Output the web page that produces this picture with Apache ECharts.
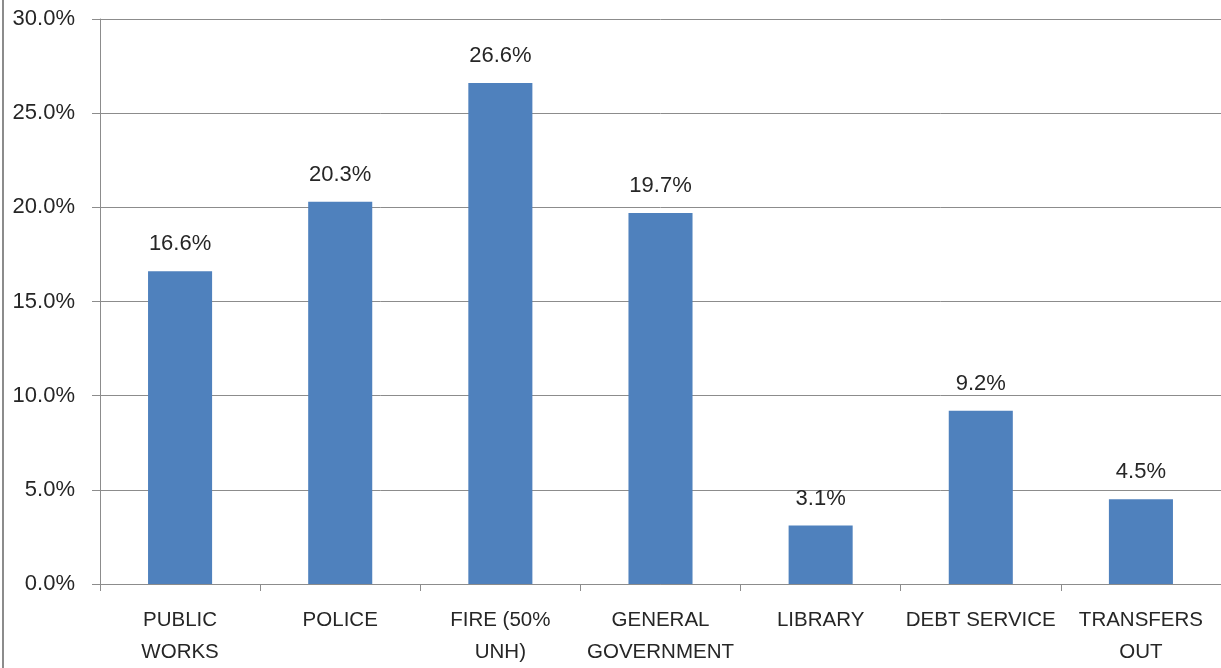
<!DOCTYPE html>
<html><head><meta charset="utf-8">
<script src="https://cdn.jsdelivr.net/npm/echarts@6/dist/echarts.min.js"></script>
<style>html,body{margin:0;padding:0;background:#fff;overflow:hidden}#c{width:1221px;height:668px}</style>
</head><body><div id="c"></div>
<script>
const categories = ["PUBLIC\nWORKS", "POLICE", "FIRE (50%\nUNH)", "GENERAL\nGOVERNMENT", "LIBRARY", "DEBT SERVICE", "TRANSFERS\nOUT"];
const values = [16.6, 20.3, 26.6, 19.7, 3.1, 9.2, 4.5];
const yTicks = [0, 5, 10, 15, 20, 25, 30];

const font = "'Liberation Sans', 'DejaVu Sans', sans-serif";
const chart = echarts.init(document.getElementById('c'));
chart.setOption({
  animation: false,
  grid: {left: 100, right: -5, top: 19, bottom: 75, containLabel: false},
  graphic: [{type: 'line', shape: {x1: 3, y1: 0, x2: 3, y2: 668}, style: {stroke: '#8c8c8c', lineWidth: 2}}],
  xAxis: {
    type: 'category', data: categories,
    axisLine: {lineStyle: {color: '#8c8c8c', width: 1}},
    axisTick: {show: true, length: 7, lineStyle: {color: '#8c8c8c'}},
    axisLabel: {fontFamily: font, fontSize: 20.5, color: '#262626', margin: 20, lineHeight: 32, interval: 0}
  },
  yAxis: {
    type: 'value', min: yTicks[0], max: yTicks[yTicks.length - 1], interval: 5,
    axisLine: {show: true, lineStyle: {color: '#8c8c8c'}},
    axisTick: {show: true, length: 8, lineStyle: {color: '#8c8c8c'}},
    splitLine: {lineStyle: {color: '#8c8c8c', width: 1}},
    axisLabel: {fontFamily: font, fontSize: 22, color: '#262626', margin: 25,
      formatter: v => v.toFixed(1) + '%'}
  },
  series: [{
    type: 'bar', data: values, barCategoryGap: '60%',
    itemStyle: {color: '#4F81BD'},
    label: {show: true, position: 'top', distance: 16, fontFamily: font, fontSize: 22, color: '#262626',
      formatter: p => p.value.toFixed(1) + '%'}
  }]
});
</script></body></html>
